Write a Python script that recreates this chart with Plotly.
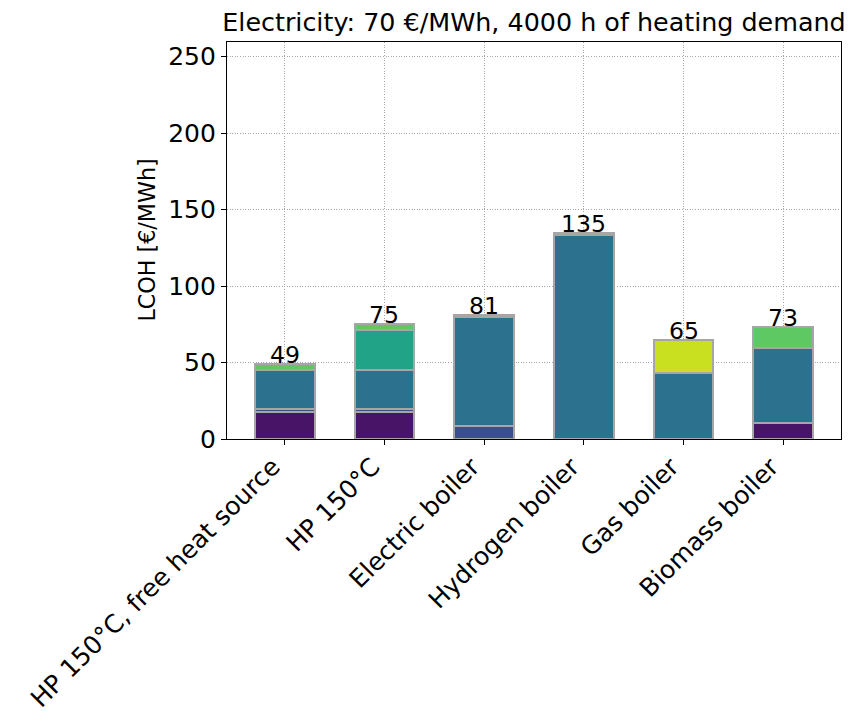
import plotly.graph_objects as go

categories = ["HP 150°C, free heat source", "HP 150°C", "Electric boiler",
              "Hydrogen boiler", "Gas boiler", "Biomass boiler"]

capex = [17.7, 17.7, 0, 0, 0, 10.7]
fixed_om = [1.8, 1.8, 8.7, 0, 0, 0]
energy = [25.5, 25.5, 70.8, 133.5, 43.0, 48.6]
heat_source = [0, 26.3, 0, 0, 0, 0]
variable_om = [4.0, 3.7, 1.5, 1.5, 0, 13.7]
co2 = [0, 0, 0, 0, 22.0, 0]

series = [
    ("CAPEX", capex, "#481467"),
    ("Fixed O&M", fixed_om, "#3b4f8a"),
    ("Electricity / fuel", energy, "#2c728e"),
    ("Heat source", heat_source, "#20a386"),
    ("Variable O&M", variable_om, "#5ec962"),
    ("CO2", co2, "#c8e020"),
]

FONT = "DejaVu Sans"
FS_TICK = 25.0
FS_TITLE = 25.4
FS_YLABEL = 22.2
FS_BARLABEL = 23.6

W, H = 856, 711
L, R, T, B = 227, 15, 42, 272
plot_w = W - L - R

fig = go.Figure()
for name, vals, color in series:
    fig.add_trace(go.Bar(
        x=categories,
        y=[v if v != 0 else None for v in vals],
        name=name,
        width=0.6,
        marker=dict(color=color, line=dict(color="#a6a6a6", width=2)),
        hoverinfo="x+y+name",
    ))

totals = [sum(s[1][i] for s in series) for i in range(len(categories))]
for c, t in zip(categories, totals):
    fig.add_annotation(x=c, y=t, text=f"{t:.0f}", showarrow=False,
                       xanchor="center", yanchor="bottom", yshift=-7,
                       font=dict(family=FONT, size=FS_BARLABEL, color="black"))

# y-axis title
fig.add_annotation(xref="paper", yref="paper", x=(146 - L) / plot_w, y=0.5,
                   text="LCOH [€/MWh]", textangle=-90, showarrow=False,
                   xanchor="center", yanchor="middle",
                   font=dict(family=FONT, size=FS_YLABEL, color="black"))

fig.update_layout(
    width=W, height=H,
    barmode="stack",
    showlegend=False,
    plot_bgcolor="white", paper_bgcolor="white",
    margin=dict(l=L, r=R, t=T, b=B, autoexpand=False),
    font=dict(family=FONT, size=FS_TICK, color="black"),
    title=dict(text="Electricity: 70 €/MWh, 4000 h of heating demand",
               x=0.5, xref="paper", xanchor="center",
               y=1 - 22 / H, yref="container", yanchor="middle",
               font=dict(family=FONT, size=FS_TITLE, color="black"),
               automargin=False),
)

grid_kw = dict(showgrid=True, gridcolor="#a8a8a8", griddash="1px,1.6px", gridwidth=0.8)

fig.update_xaxes(
    range=[-0.58, 5.58],
    tickangle=-45,
    ticklabelshift=-12,
    ticklabelstandoff=-3,
    automargin=False,
    showline=True, linecolor="black", linewidth=1.3, mirror=True,
    ticks="outside", ticklen=5, tickwidth=1.2, tickcolor="black",
    tickfont=dict(family=FONT, size=FS_TICK),
    **grid_kw,
)
fig.update_yaxes(
    range=[0, 259.6],
    tickvals=[0, 50, 100, 150, 200, 250],
    automargin=False,
    showline=True, linecolor="black", linewidth=1.3, mirror=True,
    ticks="outside", ticklen=5, tickwidth=1.2, tickcolor="black",
    zeroline=False,
    tickfont=dict(family=FONT, size=FS_TICK),
    **grid_kw,
)

fig.write_html("out.html")
